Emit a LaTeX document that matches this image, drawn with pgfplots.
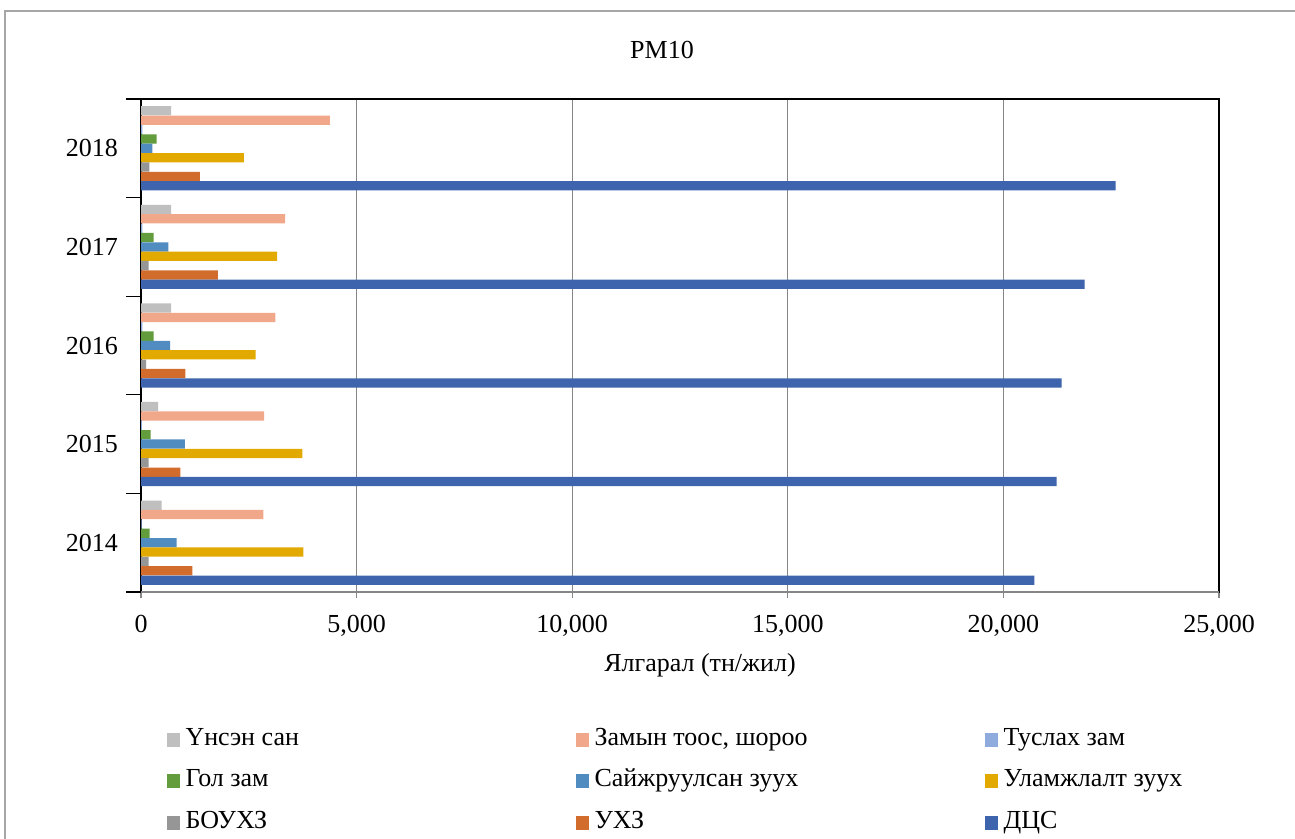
\documentclass[border=0pt]{standalone}
\usepackage{pgfplots}
\pgfplotsset{compat=1.18}
\usepackage{fontspec}
\setmainfont{Liberation Serif}
\definecolor{cUns}{RGB}{191,191,191}
\definecolor{cZam}{RGB}{241,168,138}
\definecolor{cTus}{RGB}{143,170,220}
\definecolor{cGol}{RGB}{98,156,60}
\definecolor{cSai}{RGB}{80,140,192}
\definecolor{cUla}{RGB}{226,170,0}
\definecolor{cBou}{RGB}{150,150,150}
\definecolor{cUkh}{RGB}{210,108,45}
\definecolor{cDts}{RGB}{61,100,172}
\definecolor{gridc}{RGB}{134,134,134}
\begin{document}
\begin{tikzpicture}
\useasboundingbox (0,0) rectangle (647.5pt,419.5pt);
\fill[white] (0,0) rectangle (647.5pt,419.5pt);
\draw[gray!70, line width=0.8pt] (2.5pt,-10pt) rectangle (700pt,414pt);
\node[font=\fontsize{13}{15}\selectfont] at (331pt,394.5pt) {PM10};
\node[font=\fontsize{13}{15}\selectfont] at (350pt,87pt) {Ялгарал (тн/жил)};
\begin{axis}[
  at={(70.5pt,123.5pt)}, anchor=south west,
  scale only axis, width=539pt, height=246.5pt,
  xbar, bar width=0.094,
  xmin=0, xmax=25000,
  ymin=-0.5, ymax=4.5,
  xtick={0,5000,10000,15000,20000,25000},
  ytick={0,1,2,3,4},
  yticklabels={2014,2015,2016,2017,2018},
  minor ytick={-0.5,0.5,1.5,2.5,3.5,4.5},
  xtick pos=bottom, ytick pos=left,
  tick align=outside,
  major tick length=3pt, minor tick length=7.5pt,
  ytick style={draw=none},
  minor y tick style={draw=black, line width=0.6pt},
  xtick style={gridc, line width=0.6pt},
  xmajorgrids, major x grid style={gridc, line width=0.6pt},
  axis line style={black, line width=0.8pt},
  scaled x ticks=false,
  /pgf/number format/.cd, 1000 sep={,}, assume math mode=true,
  /pgfplots/.cd,
  ticklabel style={font=\fontsize{13}{15}\selectfont},
  xticklabel style={yshift=-5pt},
  yticklabel style={xshift=-5pt},
  legend columns=3,
  legend cell align=left,
  legend style={draw=none, fill=none, inner sep=0pt, outer sep=0pt,
    at={(rel axis cs:0.0237,-0.268)}, anchor=north west,
    font=\fontsize{13}{15}\selectfont,
    nodes={inner sep=2pt, inner xsep=3pt, text height=8.5pt, text depth=3pt},
    row sep=5.25pt, column sep=0pt},
  legend image code/.code={\fill[#1,draw=none] (0pt,-3.5pt) rectangle (6.5pt,3.5pt);},
  after end axis/.code={\draw[gridc, line width=0.8pt] (rel axis cs:0,0) -- (rel axis cs:1,0);},
]
\addplot[fill=cUns, draw=none, bar shift=0.38] coordinates {(481,0) (395,1) (700,2) (700,3) (700,4)};
\addlegendentry{\makebox[192pt][l]{Үнсэн сан}}
\addplot[fill=cZam, draw=none, bar shift=0.285] coordinates {(2837,0) (2853,1) (3116,2) (3341,3) (4380,4)};
\addlegendentry{\makebox[192pt][l]{Замын тоос, шороо}}
\addplot[fill=cTus, draw=none, bar shift=0.19] coordinates {(15,0) (20,1) (30,2) (30,3) (30,4)};
\addlegendentry{Туслах зам}
\addplot[fill=cGol, draw=none, bar shift=0.095] coordinates {(202,0) (225,1) (295,2) (295,3) (365,4)};
\addlegendentry{\makebox[192pt][l]{Гол зам}}
\addplot[fill=cSai, draw=none, bar shift=0] coordinates {(829,0) (1016,1) (674,2) (636,3) (263,4)};
\addlegendentry{\makebox[192pt][l]{Сайжруулсан зуух}}
\addplot[fill=cUla, draw=none, bar shift=-0.095] coordinates {(3767,0) (3744,1) (2659,2) (3155,3) (2388,4)};
\addlegendentry{Уламжлалт зуух}
\addplot[fill=cBou, draw=none, bar shift=-0.19] coordinates {(178,0) (178,1) (116,2) (178,3) (194,4)};
\addlegendentry{\makebox[192pt][l]{БОУХЗ}}
\addplot[fill=cUkh, draw=none, bar shift=-0.285] coordinates {(1194,0) (915,1) (1031,2) (1783,3) (1364,4)};
\addlegendentry{\makebox[192pt][l]{УХЗ}}
\addplot[fill=cDts, draw=none, bar shift=-0.38] coordinates {(20721,0) (21233,1) (21349,2) (21884,3) (22605,4)};
\addlegendentry{ДЦС}
\end{axis}
\end{tikzpicture}
\end{document}
